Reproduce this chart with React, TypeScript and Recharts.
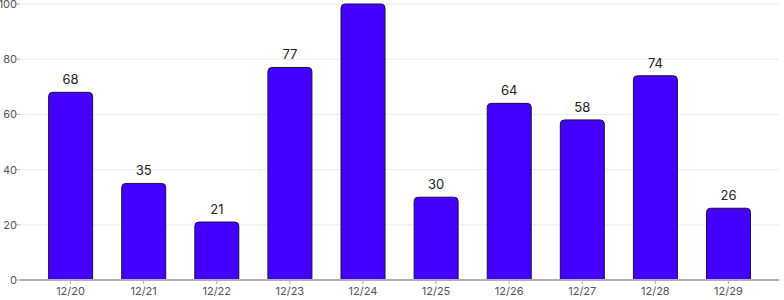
import React from "react";
import { BarChart, Bar, XAxis, YAxis, CartesianGrid, LabelList } from "recharts";

const categories = ["12/20", "12/21", "12/22", "12/23", "12/24", "12/25", "12/26", "12/27", "12/28", "12/29"];
const values = [68, 35, 21, 77, 100, 30, 64, 58, 74, 26];
const yTicks = [0, 20, 40, 60, 80, 100];

const data = categories.map((c, i) => ({ name: c, value: values[i] }));

export default function App() {
  return (
    <div style={{ position: "absolute", left: 0, top: 0, fontFamily: "Inter" }}>
      <BarChart
        width={784}
        height={300}
        data={data}
        margin={{ top: 4, right: 5, bottom: 0, left: 0 }}
        barCategoryGap="20%"
      >
        <CartesianGrid vertical={false} stroke="#ebebeb" />
        <XAxis
          dataKey="name"
          padding={{ left: 14, right: 14 }}
          height={20}
          tick={{ fontSize: 11, fill: "#555", fontFamily: "Inter" }}
          tickSize={4}
          tickMargin={3}
          axisLine={{ stroke: "#b0b0b0", strokeWidth: 2 }}
          tickLine={{ stroke: "#b0b0b0" }}
        />
        <YAxis
          width={20}
          domain={[0, 100]}
          ticks={yTicks}
          tick={{ fontSize: 11, fill: "#555", fontFamily: "Inter", dx: 1 }}
          tickSize={4}
          tickMargin={0}
          axisLine={false}
          tickLine={{ stroke: "#b0b0b0" }}
          interval={0}
        />
        <Bar
          dataKey="value"
          fill="#4400ff"
          stroke="#1a1040"
          strokeWidth={1}
          radius={[4, 4, 0, 0]}
          isAnimationActive={false}
        >
          <LabelList
            dataKey="value"
            position="top"
            offset={8}
            style={{ fontSize: 13, fill: "#222", fontFamily: "Inter" }}
          />
        </Bar>
      </BarChart>
    </div>
  );
}
